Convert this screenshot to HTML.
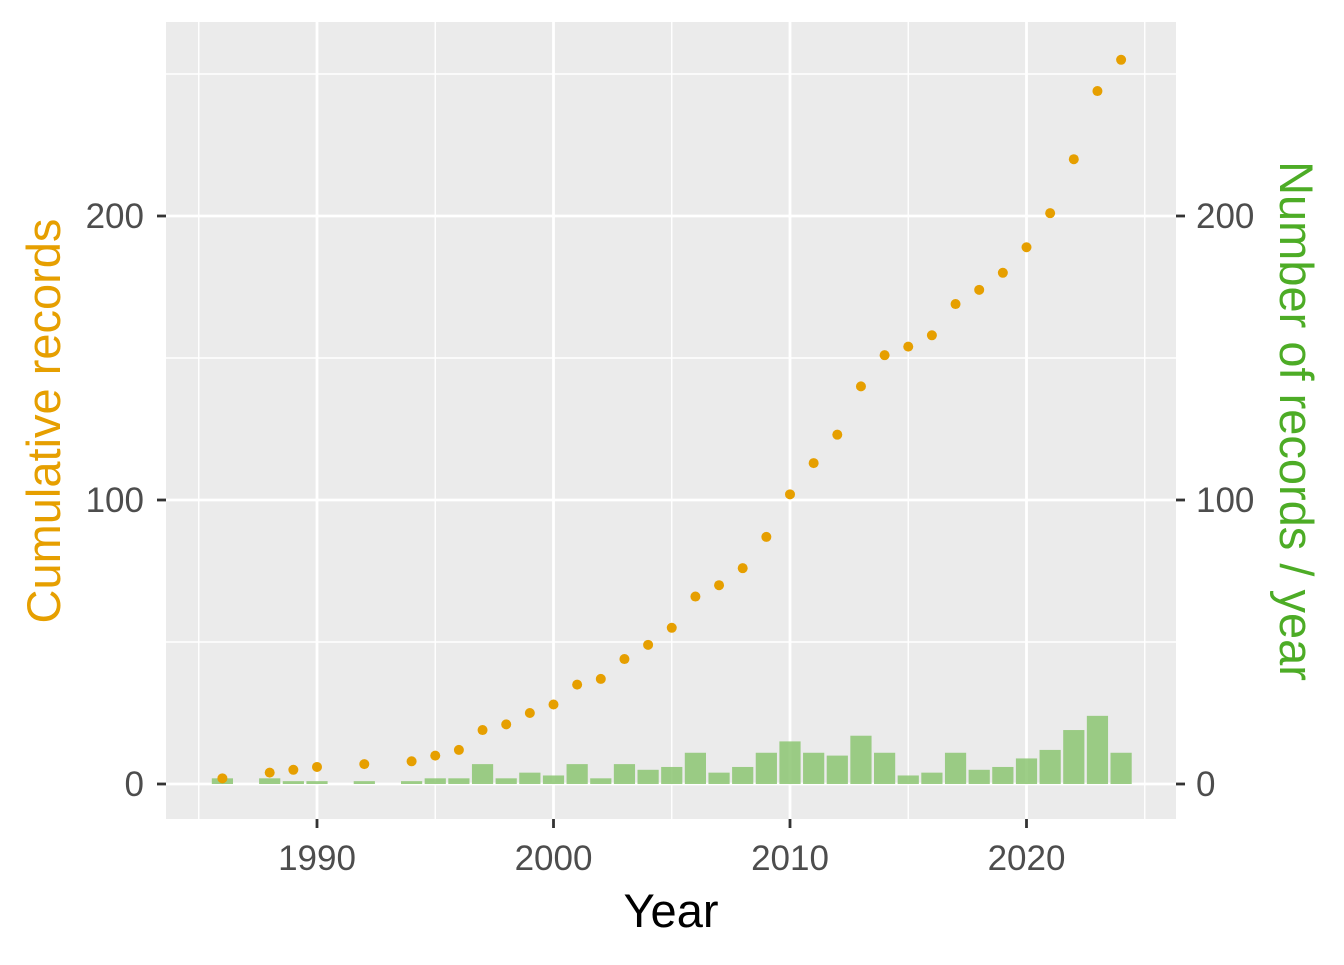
<!DOCTYPE html>
<html><head><meta charset="utf-8"><style>
body{margin:0;background:#fff;font-family:"Liberation Sans",Arial,sans-serif}
</style></head><body>
<svg width="1344" height="960" xmlns="http://www.w3.org/2000/svg" font-family="Liberation Sans, Arial, sans-serif">
<rect x="166" y="22" width="1010" height="797" fill="#EBEBEB"/>
<g id="grid"></g><g id="bars"></g><g id="pts"></g><g id="axes"></g>
<text x="0" y="0" transform="translate(60,421) rotate(-90)" text-anchor="middle" font-size="47" fill="#E69F00">Cumulative records</text>
<text x="0" y="0" transform="translate(1280,421) rotate(90)" text-anchor="middle" font-size="47" fill="#4DAC26">Number of records / year</text>
<text x="671" y="927" text-anchor="middle" font-size="47" fill="#000">Year</text>
</svg>
<script>
const years=[1986,1988,1989,1990,1992,1994,1995,1996,1997,1998,1999,2000,2001,2002,2003,2004,2005,2006,2007,2008,2009,2010,2011,2012,2013,2014,2015,2016,2017,2018,2019,2020,2021,2022,2023,2024];
const counts=[2,2,1,1,1,1,2,2,7,2,4,3,7,2,7,5,6,11,4,6,11,15,11,10,17,11,3,4,11,5,6,9,12,19,24,11];
const xTicks=[1990,2000,2010,2020];
const yTicks=[0,100,200];
const NS="http://www.w3.org/2000/svg";
const X=v=>317+(v-1990)*23.65;
const Y=v=>784-v*2.84;
function mk(p,t,a){const e=document.createElementNS(NS,t);for(const k in a)e.setAttribute(k,a[k]);document.getElementById(p).appendChild(e);return e;}
[1985,1995,2005,2015,2025].forEach(v=>{const e=mk('grid','line',{x1:X(v),x2:X(v),y1:22,y2:819,stroke:'#fff','stroke-width':1.4});

});
[50,150,250].forEach(v=>{const e=mk('grid','line',{x1:166,x2:1176,y1:Y(v),y2:Y(v),stroke:'#fff','stroke-width':1.4});

});
xTicks.forEach(v=>{const e=mk('grid','line',{x1:X(v),x2:X(v),y1:22,y2:819,stroke:'#fff','stroke-width':2.8});


mk('axes','line',{x1:X(v),x2:X(v),y1:819,y2:828,stroke:'#333','stroke-width':2.8});
const t=mk('axes','text',{x:X(v),y:870,'text-anchor':'middle','font-size':35,fill:'#4D4D4D'});t.textContent=v;

});
yTicks.forEach(v=>{const e=mk('grid','line',{x1:166,x2:1176,y1:Y(v),y2:Y(v),stroke:'#fff','stroke-width':2.8});


mk('axes','line',{x1:157,x2:166,y1:Y(v),y2:Y(v),stroke:'#333','stroke-width':2.8});
mk('axes','line',{x1:1176,x2:1185,y1:Y(v),y2:Y(v),stroke:'#333','stroke-width':2.8});
const t=mk('axes','text',{x:144,y:Y(v)+12,'text-anchor':'end','font-size':35,fill:'#4D4D4D'});t.textContent=v;


const t2=mk('axes','text',{x:1196,y:Y(v)+12,'text-anchor':'start','font-size':35,fill:'#4D4D4D'});t2.textContent=v;

});
let cum=0;
years.forEach((y,i)=>{cum+=counts[i];
const b=mk('bars','rect',{x:X(y)-10.6,y:Y(counts[i]),width:21.2,height:counts[i]*2.84,fill:'#8CC672','fill-opacity':0.85});


const c=mk('pts','circle',{cx:X(y),cy:Y(cum),r:5,fill:'#E69F00'});

});
</script>
</body></html>
